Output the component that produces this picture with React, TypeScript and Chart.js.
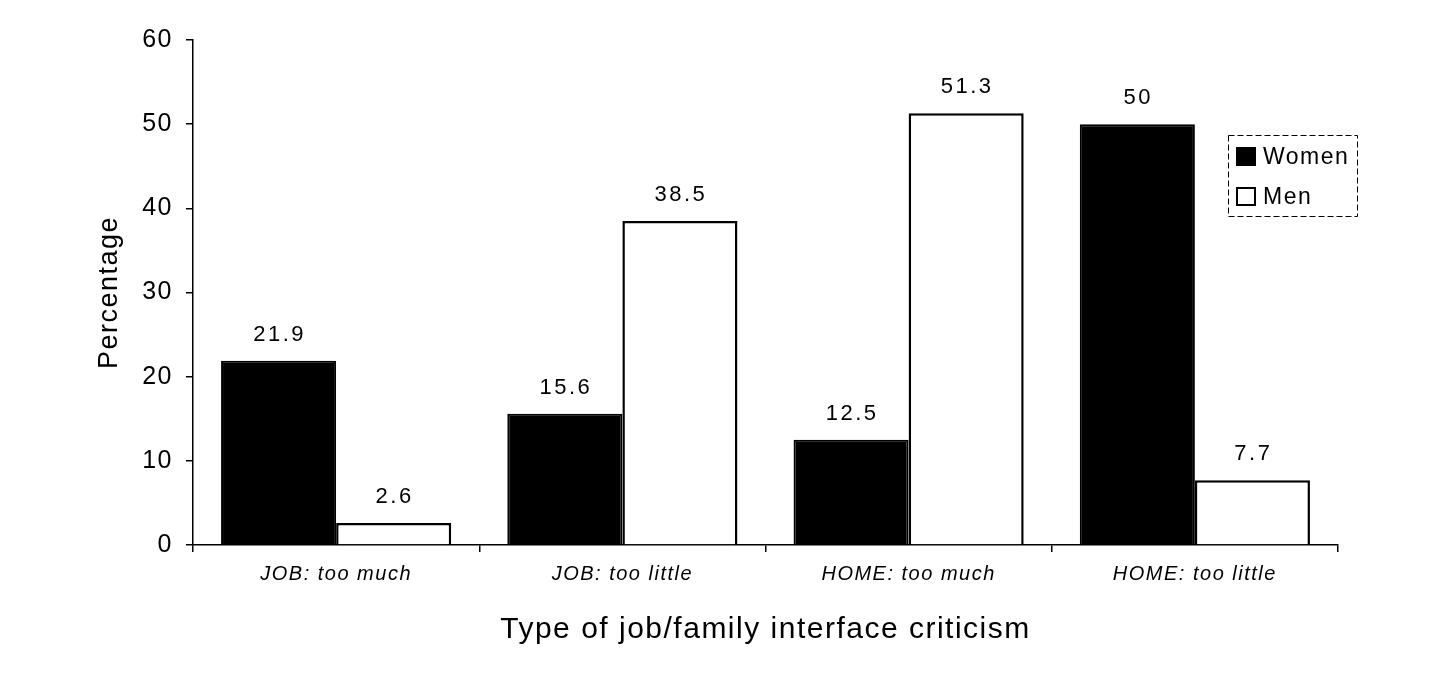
import React, { useEffect, useRef } from 'react';
import Chart from 'chart.js/auto';

const categories = ['JOB: too much', 'JOB: too little', 'HOME: too much', 'HOME: too little'];
const women = [21.9, 15.6, 12.5, 50];
const men = [2.6, 38.5, 51.3, 7.7];
const seriesNames = ['Women', 'Men'];

const FONT = '"Liberation Sans", Arial, Helvetica, sans-serif';

// the scanned original has loosely spaced type
const spacing = {
  id: 'spacing',
  beforeDraw(chart: any) {
    (chart.ctx as any).letterSpacing = '1.5px';
  },
  afterDraw(chart: any) {
    (chart.ctx as any).letterSpacing = '0px';
  },
};

// value labels above each bar
const barLabels = {
  id: 'barLabels',
  afterDatasetsDraw(chart: any) {
    const ctx = chart.ctx;
    ctx.save();
    ctx.font = `22px ${FONT}`;
    ctx.fillStyle = '#000';
    ctx.textAlign = 'center';
    ctx.textBaseline = 'bottom';
    (ctx as any).letterSpacing = '2.5px';
    chart.data.datasets.forEach((ds: any, i: number) => {
      chart.getDatasetMeta(i).data.forEach((bar: any, j: number) => {
        ctx.fillText(String(ds.data[j]), bar.x + 1, bar.y - 15);
      });
    });
    ctx.restore();
  },
};

// boxed legend sitting over the top right of the plot
const boxLegend = {
  id: 'boxLegend',
  afterDraw(chart: any) {
    const ctx = chart.ctx;
    const x0 = 1228, y0 = 135, w = 129, h = 81;
    ctx.save();
    ctx.fillStyle = '#fff';
    ctx.fillRect(x0, y0, w, h);
    ctx.strokeStyle = '#000';
    ctx.lineWidth = 1;
    ctx.setLineDash([6, 3]);
    ctx.strokeRect(x0 + 0.5, y0 + 0.5, w, h);
    ctx.setLineDash([]);
    ctx.font = `23px ${FONT}`;
    (ctx as any).letterSpacing = '1.5px';
    ctx.textBaseline = 'middle';
    ctx.textAlign = 'left';
    chart.data.datasets.forEach((ds: any, i: number) => {
      const cy = y0 + 22 + i * 40;
      ctx.fillStyle = ds.backgroundColor;
      ctx.fillRect(x0 + 8, cy - 10, 20, 19);
      ctx.lineWidth = 2;
      ctx.strokeStyle = '#000';
      ctx.strokeRect(x0 + 9, cy - 9, 18, 17);
      ctx.fillStyle = '#000';
      ctx.fillText(ds.label, x0 + 35, cy + 1);
    });
    ctx.restore();
  },
};

const App = () => {
  const canvasRef = useRef<HTMLCanvasElement | null>(null);
  const chartRef = useRef<Chart | null>(null);

  useEffect(() => {
    if (!canvasRef.current) return;
    if (chartRef.current) chartRef.current.destroy();

    const axisGrid = {
      drawOnChartArea: false,
      drawTicks: true,
      tickLength: 7,
      color: '#000',
      lineWidth: 1.5,
    };

    chartRef.current = new Chart(canvasRef.current, {
      type: 'bar',
      data: {
        labels: categories,
        datasets: [
          {
            label: seriesNames[0],
            data: women,
            backgroundColor: '#000',
            borderColor: '#000',
            borderWidth: 2,
          },
          {
            label: seriesNames[1],
            data: men,
            backgroundColor: '#fff',
            borderColor: '#000',
            borderWidth: 2.5,
          },
        ],
      },
      options: {
        responsive: false,
        devicePixelRatio: 1,
        animation: false,
        layout: { padding: { top: 40, right: 118, left: 0, bottom: 0 } },
        datasets: { bar: { categoryPercentage: 0.804, barPercentage: 1 } },
        plugins: {
          legend: { display: false },
          tooltip: { enabled: false },
        },
        scales: {
          x: {
            grid: { ...axisGrid, offset: true },
            border: { display: true, color: '#000', width: 1.5 },
            ticks: {
              color: '#000',
              padding: 10,
              font: { family: FONT, size: 20, style: 'italic' },
            },
            title: {
              display: true,
              text: 'Type of job/family interface criticism',
              color: '#000',
              font: { family: FONT, size: 30 },
              padding: { top: 0, bottom: 31 },
            },
            afterFit: (scale: any) => {
              scale.height = 134;
            },
          },
          y: {
            min: 0,
            max: 60,
            grid: axisGrid,
            border: { display: true, color: '#000', width: 1.5 },
            ticks: {
              stepSize: 10,
              color: '#000',
              padding: 13,
              font: { family: FONT, size: 25 },
            },
            title: {
              display: true,
              text: 'Percentage',
              color: '#000',
              font: { family: FONT, size: 27 },
              padding: { top: 93, bottom: 0 },
            },
            afterFit: (scale: any) => {
              scale.width = 193;
            },
          },
        },
      },
      plugins: [spacing, barLabels, boxLegend],
    } as any);

    return () => {
      if (chartRef.current) {
        chartRef.current.destroy();
        chartRef.current = null;
      }
    };
  }, []);

  return (
    <div style={{ position: 'fixed', left: 0, top: 0, width: 1456, height: 679, background: '#fff' }}>
      <canvas ref={canvasRef} width={1456} height={679} />
    </div>
  );
};

export default App;
